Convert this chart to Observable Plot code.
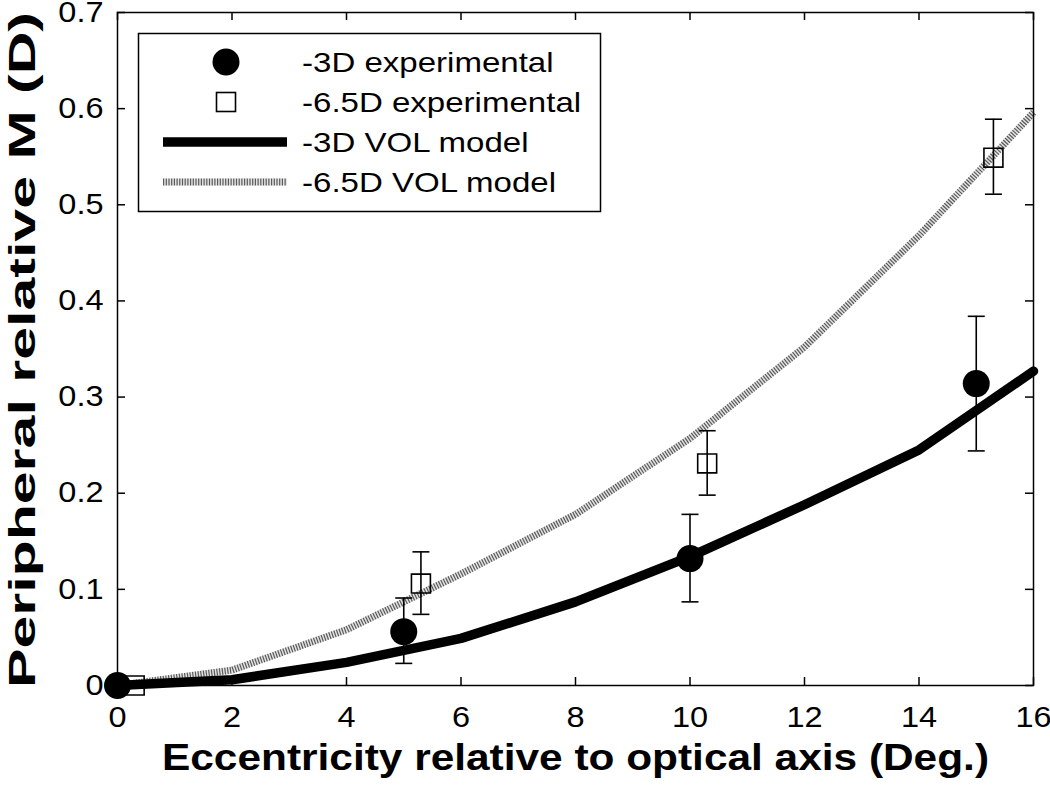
<!DOCTYPE html>
<html><head><meta charset="utf-8">
<script src="https://cdn.jsdelivr.net/npm/d3@7"></script>
<script src="https://cdn.jsdelivr.net/npm/@observablehq/plot@0.6"></script>
<style>body{margin:0;background:#fff}#chart{width:1050px;height:790px}</style>
</head><body><div id="chart"></div>
<script>
// ---- data ----
const xTicks = [0, 2, 4, 6, 8, 10, 12, 14, 16];
const yTicks = [0, 0.1, 0.2, 0.3, 0.4, 0.5, 0.6, 0.7];
const yTickLabels = ["0", "0.1", "0.2", "0.3", "0.4", "0.5", "0.6", "0.7"];

const exp3X  = [0, 5, 10, 15];
const exp3Y  = [0, 0.056, 0.132, 0.314];
const exp3Lo = [0, 0.023, 0.087, 0.244];
const exp3Hi = [0, 0.091, 0.178, 0.384];

const exp65X  = [0.3, 5.3, 10.3, 15.3];
const exp65Y  = [0, 0.106, 0.231, 0.549];
const exp65Lo = [0, 0.074, 0.198, 0.511];
const exp65Hi = [0, 0.139, 0.265, 0.589];

const modelX   = [0, 2, 4, 6, 8, 10, 12, 14, 16];
const model3Y  = [0, 0.006, 0.024, 0.049, 0.087, 0.134, 0.188, 0.245, 0.327];
const model65Y = [0, 0.016, 0.058, 0.116, 0.178, 0.257, 0.352, 0.468, 0.596];

const legendLabels = ["-3D experimental", "-6.5D experimental", "-3D VOL model", "-6.5D VOL model"];
const xLabel = "Eccentricity relative to optical axis (Deg.)";
const yLabel = "Peripheral relative M (D)";

// ---- tables ----
const exp3 = exp3X.map((x, i) => ({x, y: exp3Y[i], lo: exp3Lo[i], hi: exp3Hi[i]}));
const exp65 = exp65X.map((x, i) => ({x, y: exp65Y[i], lo: exp65Lo[i], hi: exp65Hi[i]}));
const bars = [...exp3, ...exp65].filter(d => d.hi > d.lo);
const m3 = modelX.map((x, i) => ({x, y: model3Y[i]}));
const m65 = modelX.map((x, i) => ({x, y: model65Y[i]}));

const W = 1050, H = 790, mL = 117, mR = 17, mT = 12, mB = 105;
const pw = W - mL - mR, ph = H - mT - mB, tk = 8;
const FONT = "'Liberation Sans', Arial, Helvetica, sans-serif";
const HATCH_BASE = "#e2e2e2", HATCH_STRIPE = "#5a5a5a", HATCH_DASH = "1.2,1.5";

const cap = {draw(ctx, size) { const w = Math.sqrt(size / Math.PI); ctx.moveTo(-w, 0); ctx.lineTo(w, 0); }};

const chart = Plot.plot({
  width: W, height: H,
  marginLeft: mL, marginRight: mR, marginTop: mT, marginBottom: mB,
  style: {fontFamily: FONT, color: "#000", background: "#fff", overflow: "visible"},
  x: {domain: [0, 16]},
  y: {domain: [0, 0.7]},
  marks: [
    Plot.axisX(xTicks, {tickSize: 0, tickPadding: 21, fontSize: 29, label: null}),
    Plot.axisY(yTicks, {tickSize: 0, tickPadding: 14, fontSize: 29, label: null,
      tickFormat: d => yTickLabels[yTicks.indexOf(d)]}),
    // model lines
    Plot.line(m65, {x: "x", y: "y", stroke: HATCH_BASE, strokeWidth: 7, strokeLinecap: "butt"}),
    Plot.line(m65, {x: "x", y: "y", stroke: HATCH_STRIPE, strokeWidth: 7, strokeDasharray: HATCH_DASH,
      strokeLinecap: "butt", strokeLinejoin: "miter"}),
    Plot.line(m3, {x: "x", y: "y", stroke: "#000", strokeWidth: 9.5, strokeLinejoin: "round"}),
    // error bars
    Plot.ruleX(bars, {x: "x", y1: "lo", y2: "hi", stroke: "#000", strokeWidth: 1.6}),
    Plot.dot(bars, {x: "x", y: "lo", symbol: cap, r: 8.5, stroke: "#000", strokeWidth: 1.6}),
    Plot.dot(bars, {x: "x", y: "hi", symbol: cap, r: 8.5, stroke: "#000", strokeWidth: 1.6}),
    // markers
    Plot.dot(exp3, {x: "x", y: "y", r: 13.5, fill: "#000", stroke: "none"}),
    Plot.dot(exp65, {x: "x", y: "y", symbol: "square", r: 10.7, fill: "none", stroke: "#000", strokeWidth: 1.6}),
    // frame and inward ticks
    Plot.frame({stroke: "#000", strokeWidth: 1.5}),
    Plot.ruleX(xTicks, {insetTop: ph - tk, stroke: "#000", strokeWidth: 1.5}),
    Plot.ruleX(xTicks, {insetBottom: ph - tk, stroke: "#000", strokeWidth: 1.5}),
    Plot.ruleY(yTicks, {insetRight: pw - tk, stroke: "#000", strokeWidth: 1.5}),
    Plot.ruleY(yTicks, {insetLeft: pw - tk, stroke: "#000", strokeWidth: 1.5}),
    // axis titles
    Plot.text([xLabel], {text: d => d, frameAnchor: "bottom", textAnchor: "middle", lineAnchor: "bottom", dy: 84,
      fontSize: 36, fontWeight: "bold", fill: "#000"}),
    Plot.text([yLabel], {text: d => d, frameAnchor: "left", textAnchor: "middle", lineAnchor: "bottom",
      dx: -83, dy: 1, rotate: -90, fontSize: 36, fontWeight: "bold", fill: "#000"})
  ]
});
document.getElementById("chart").append(chart);

// ---- legend (inside the plot area, drawn into the same SVG) ----
const svg = d3.select(chart);
const lg = svg.append("g").attr("font-family", FONT).attr("font-size", 28).attr("text-anchor", "start");
lg.append("rect").attr("x", 138.5).attr("y", 33.5).attr("width", 462).attr("height", 178)
  .attr("fill", "#fff").attr("stroke", "#000").attr("stroke-width", 1.5);
const rowY = [62, 102, 142, 182];
const mx = 226;
lg.append("circle").attr("cx", mx).attr("cy", rowY[0]).attr("r", 13.5).attr("fill", "#000");
lg.append("rect").attr("x", mx - 9.5).attr("y", rowY[1] - 9.5).attr("width", 19).attr("height", 19)
  .attr("fill", "none").attr("stroke", "#000").attr("stroke-width", 1.6);
lg.append("line").attr("x1", 163).attr("x2", 287).attr("y1", rowY[2]).attr("y2", rowY[2])
  .attr("stroke", "#000").attr("stroke-width", 9.5);
lg.append("line").attr("x1", 163).attr("x2", 287).attr("y1", rowY[3]).attr("y2", rowY[3])
  .attr("stroke", HATCH_BASE).attr("stroke-width", 7);
lg.append("line").attr("x1", 163).attr("x2", 287).attr("y1", rowY[3]).attr("y2", rowY[3])
  .attr("stroke", HATCH_STRIPE).attr("stroke-width", 7).attr("stroke-dasharray", HATCH_DASH);
lg.selectAll("text.lab").data(legendLabels).join("text").attr("class", "lab")
  .attr("x", 302).attr("y", (d, i) => rowY[i]).attr("dy", "0.36em").attr("fill", "#000").text(d => d);

// ---- horizontal stretch to match the reference's wide lettering ----
function stretch(el, factor, target) {
  const n = el.getComputedTextLength();
  el.setAttribute("textLength", target || n * factor);
  el.setAttribute("lengthAdjust", "spacingAndGlyphs");
}
svg.selectAll("text").each(function() {
  const t = this.textContent;
  if (t === xLabel) stretch(this, 1, 827);
  else if (t === yLabel) stretch(this, 1, 676);
  else if (legendLabels.includes(t)) stretch(this, 1.18);
  else stretch(this, 1.12);
});
</script>
</body></html>
